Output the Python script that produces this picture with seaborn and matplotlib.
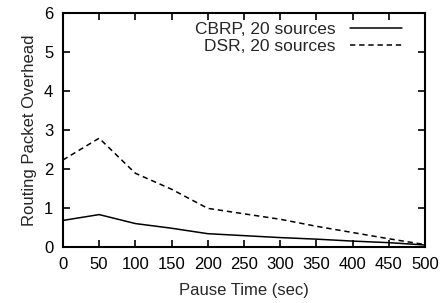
import matplotlib
matplotlib.use("Agg")
import matplotlib.pyplot as plt
import seaborn as sns
import pandas as pd

pause_time = [0, 50, 100, 150, 200, 250, 300, 350, 400, 450, 500]
cbrp = [0.68, 0.83, 0.60, 0.48, 0.34, 0.29, 0.24, 0.20, 0.15, 0.11, 0.05]
dsr = [2.23, 2.79, 1.89, 1.48, 0.99, 0.85, 0.71, 0.53, 0.37, 0.21, 0.06]
labels = ["CBRP, 20 sources", "DSR, 20 sources"]
x_ticks = list(range(0, 501, 50))
y_ticks = list(range(0, 7))

sns.set_style("ticks")
plt.rcParams['font.family'] = ['Liberation Sans', 'DejaVu Sans']

fig = plt.figure(figsize=(4.4, 3.03), dpi=100)
ax = fig.add_axes([0.143, 0.185, 0.823, 0.772])

df_c = pd.DataFrame({"x": pause_time, "y": cbrp})
df_d = pd.DataFrame({"x": pause_time, "y": dsr})
sns.lineplot(data=df_c, x="x", y="y", ax=ax, color="black", linewidth=1.1, label=labels[0])
sns.lineplot(data=df_d, x="x", y="y", ax=ax, color="black", linewidth=1.1,
             linestyle=(0, (3.5, 2.5)), label=labels[1])

ax.set_xlim(0, 500)
ax.set_ylim(0, 6)
ax.set_xticks(x_ticks)
ax.set_yticks(y_ticks)
ax.tick_params(direction="in", length=5, width=1.2, top=True, right=True,
               labelsize=12, pad=7, colors="black")
for s in ax.spines.values():
    s.set_linewidth(1.5)
    s.set_color("black")
ax.set_xlabel("Pause Time (sec)", fontsize=12, labelpad=8)
ax.set_ylabel("Routing Packet Overhead", fontsize=12, labelpad=5)

leg = ax.legend(loc="upper right", frameon=False, markerfirst=False, fontsize=12.5,
                handlelength=3.0, handletextpad=0.8, labelspacing=0.1,
                borderaxespad=0.0, bbox_to_anchor=(0.955, 0.99))

fig.savefig("out.png", dpi=100)
